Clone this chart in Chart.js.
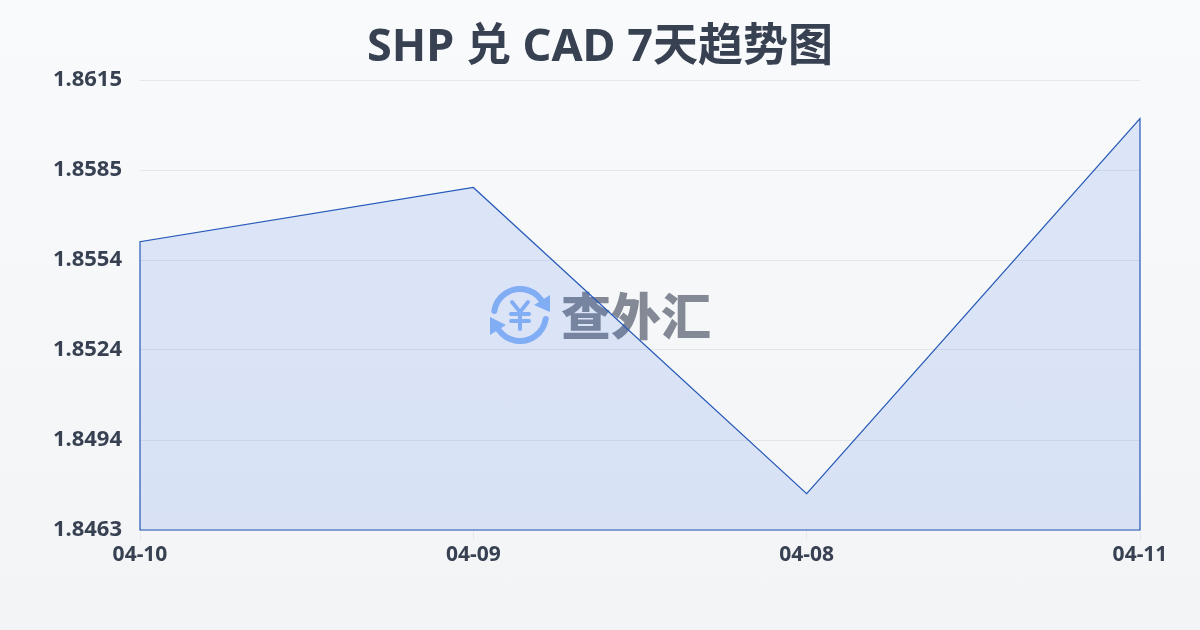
<!DOCTYPE html>
<html><head><meta charset="utf-8">
<style>html,body{margin:0;padding:0;width:1200px;height:630px;overflow:hidden;background:linear-gradient(180deg,#f8fafc,#f3f4f6)}canvas{display:block}</style>
<script src="https://cdn.jsdelivr.net/npm/chart.js@4"></script>
</head><body><canvas id="c" width="1200" height="630"></canvas>
<script>
const categories = ['04-10','04-09','04-08','04-11'];
const rates = [1.85606,1.85789,1.84755,1.86022];
const yTicks = [1.84632,1.84936,1.8524,1.85544,1.85848,1.86152];
const titleText = 'SHP 兑 CAD 7天趋势图';
const watermarkText = '查外汇';
const FONT = '"Noto Sans","Noto Sans CJK SC",sans-serif';
const ink = '#374151';
const lineBlue = '#2558b8';

const watermark = {
  id:'watermark',
  beforeDatasetsDraw(chart){
    const c = chart.ctx; c.save();
    const cx=520, cy=315, r=26;
    c.strokeStyle='#8fb8f6'; c.fillStyle='#8fb8f6'; c.lineWidth=6; c.lineCap='round'; c.lineJoin='round';
    c.beginPath(); c.arc(cx,cy,r,Math.PI*1.05,Math.PI*1.8); c.stroke();
    c.beginPath(); c.arc(cx,cy,r,Math.PI*0.05,Math.PI*0.8); c.stroke();
    c.beginPath(); c.moveTo(550,295); c.lineTo(550,312); c.lineTo(534,305); c.closePath(); c.fill();
    c.beginPath(); c.moveTo(490,335); c.lineTo(490,317); c.lineTo(506,325); c.closePath(); c.fill();
    c.lineWidth=4;
    c.beginPath(); c.moveTo(512,302); c.lineTo(520,312); c.lineTo(528,302);
    c.moveTo(511,314); c.lineTo(529,314); c.moveTo(511,321); c.lineTo(529,321);
    c.moveTo(520,312); c.lineTo(520,329); c.stroke();
    c.fillStyle='rgba(55,65,81,0.6)';
    c.font='900 50px "Noto Sans CJK SC",sans-serif'; c.textAlign='left'; c.textBaseline='middle';
    c.fillText(watermarkText,561,316);
    c.restore();
  }
};
const outline = {
  id:'outline',
  afterDatasetsDraw(chart){
    const x=chart.scales.x, y=chart.scales.y, c=chart.ctx, base=y.getPixelForValue(yTicks[0]);
    c.save(); c.strokeStyle=lineBlue; c.lineWidth=1.2; c.beginPath();
    c.moveTo(x.getPixelForValue(0),base);
    rates.forEach((v,i)=>c.lineTo(x.getPixelForValue(i),y.getPixelForValue(v)));
    c.lineTo(x.getPixelForValue(rates.length-1),base); c.closePath(); c.stroke(); c.restore();
  }
};

new Chart(document.getElementById('c'),{
  type:'line',
  data:{labels:categories,datasets:[{data:rates,borderWidth:0,borderColor:'rgba(0,0,0,0)',backgroundColor:'rgba(37,99,235,0.13)',fill:'start',tension:0,pointRadius:0}]},
  plugins:[watermark,outline],
  options:{
    responsive:false,animation:false,devicePixelRatio:1,
    plugins:{legend:{display:false},tooltip:{enabled:false},
      title:{display:true,text:titleText,color:ink,font:{family:FONT,size:45,weight:'bold'},padding:{top:21,bottom:5}}},
    scales:{
      x:{offset:false,grid:{color:'#e5e7eb',drawOnChartArea:false,drawTicks:true,tickLength:10},border:{color:'rgba(0,0,0,0)'},
        ticks:{color:ink,font:{family:FONT,size:21,weight:'bold'},maxRotation:0,autoSkip:false,padding:2},
        afterFit(s){s.height=100;}},
      y:{min:yTicks[0],max:yTicks[5],grid:{color:'rgba(55,65,81,0.09)',drawTicks:false},border:{display:false},
        afterBuildTicks(s){s.ticks=yTicks.map(v=>({value:v}));},
        ticks:{color:ink,font:{family:FONT,size:22,weight:'bold'},padding:18,callback:v=>Number(v).toFixed(4)},
        afterFit(s){s.width=140;}},
      spacer:{position:'right',grid:{display:false},border:{display:false},ticks:{display:false},afterFit(s){s.width=60;}}
    }
  }
});
</script></body></html>
